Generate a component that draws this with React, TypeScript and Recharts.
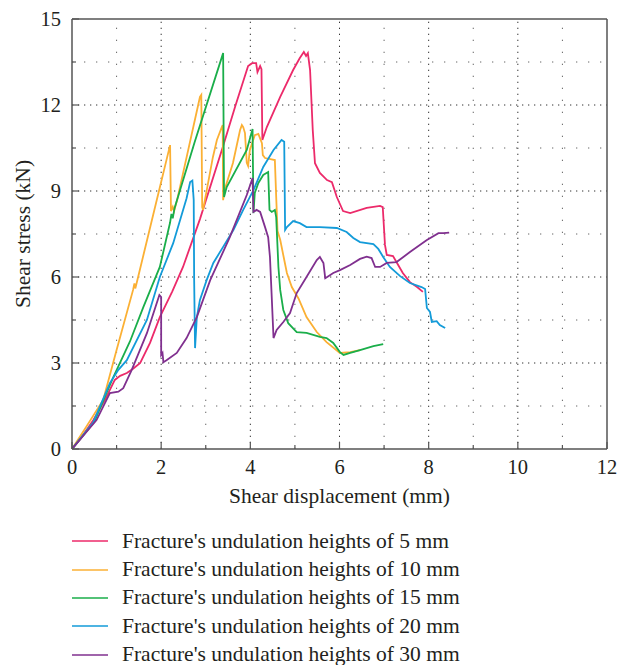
import { LineChart, Line, XAxis, YAxis, ReferenceLine, Legend } from 'recharts';

type Pt = [number, number];

// shear displacement (mm), shear stress (kN)
const height5: Pt[] = [
  [0, 0], [0.2, 0.38], [0.48, 1.01], [0.75, 1.75], [0.96, 2.41], [1.08, 2.55], [1.23, 2.65], [1.37, 2.8],
  [1.53, 3.0], [1.75, 3.7], [1.97, 4.6], [2.25, 5.5], [2.49, 6.35], [2.87, 8.02], [3.39, 10.57], [3.66, 11.95],
  [3.95, 13.36], [4.04, 13.46], [4.13, 13.46], [4.16, 13.15], [4.22, 13.36], [4.25, 13.25], [4.27, 10.78],
  [4.37, 11.23], [4.67, 12.28], [4.96, 13.22], [5.11, 13.64], [5.2, 13.85], [5.25, 13.71], [5.29, 13.81],
  [5.34, 13.22], [5.4, 11.13], [5.45, 9.97], [5.56, 9.63], [5.72, 9.38], [5.83, 9.31], [5.94, 8.79], [6.08, 8.3],
  [6.24, 8.23], [6.61, 8.41], [6.91, 8.48], [6.97, 8.44], [7.02, 7.12], [7.06, 6.77], [7.2, 6.73], [7.29, 6.49],
  [7.42, 6.14], [7.58, 5.82], [7.74, 5.65], [7.87, 5.48],
];

const height10: Pt[] = [
  [0, 0], [0.35, 0.85], [0.7, 1.71], [1.0, 3.45], [1.37, 5.55], [1.4, 5.78], [1.42, 5.6], [1.46, 5.85],
  [1.9, 8.68], [2.2, 10.6], [2.22, 8.3], [2.26, 8.45], [2.29, 8.3], [2.36, 8.7], [2.87, 12.28], [2.9, 12.35],
  [2.92, 8.44], [2.94, 8.34], [3.16, 10.18], [3.25, 10.78], [3.36, 11.23], [3.38, 11.3], [3.39, 8.68],
  [3.42, 9.03], [3.61, 9.98], [3.77, 11.13], [3.81, 11.3], [3.84, 11.23], [3.88, 11.02], [3.92, 9.98],
  [3.95, 9.87], [3.99, 10.43], [4.1, 10.95], [4.18, 10.99], [4.26, 10.67], [4.28, 10.25], [4.33, 10.15],
  [4.55, 10.08], [4.58, 8.8], [4.61, 7.6], [4.67, 7.3], [4.76, 6.6], [4.82, 6.14], [4.93, 5.65], [5.08, 5.25],
  [5.26, 4.6], [5.49, 4.08], [5.71, 3.73], [6.01, 3.35], [6.24, 3.38], [6.46, 3.45],
];

const height15: Pt[] = [
  [0, 0], [0.5, 0.95], [0.93, 2.52], [1.3, 3.75], [1.6, 4.95], [1.97, 6.35], [2.2, 7.9], [2.23, 8.2],
  [2.26, 8.05], [2.3, 8.4], [2.75, 10.7], [3.39, 13.81], [3.41, 8.79], [3.47, 9.14], [3.92, 10.43],
  [4.05, 11.16], [4.07, 8.23], [4.1, 8.93], [4.18, 9.28], [4.29, 9.56], [4.4, 9.66], [4.43, 8.34],
  [4.48, 8.27], [4.55, 8.34], [4.58, 8.09], [4.63, 6.35], [4.67, 5.55], [4.74, 4.85], [4.85, 4.39],
  [5.04, 4.08], [5.26, 4.05], [5.56, 3.91], [5.71, 3.87], [5.86, 3.7], [6.01, 3.38], [6.09, 3.28],
  [6.24, 3.35], [6.46, 3.45], [6.76, 3.59], [6.98, 3.66],
];

const height20: Pt[] = [
  [0, 0], [0.47, 0.91], [0.85, 2.3], [1.04, 2.76], [1.23, 3.1], [1.68, 4.5], [1.97, 6.0], [2.27, 7.18],
  [2.57, 8.75], [2.65, 9.31], [2.7, 9.36], [2.73, 8.69], [2.74, 5.89], [2.76, 3.52], [2.8, 4.6], [2.87, 5.2],
  [3.02, 5.89], [3.17, 6.49], [3.39, 7.05], [3.62, 7.64], [3.84, 8.34], [4.07, 9.03], [4.29, 9.84],
  [4.52, 10.43], [4.7, 10.78], [4.76, 10.72], [4.78, 7.64], [4.82, 7.74], [4.96, 7.95], [5.11, 7.88],
  [5.26, 7.74], [5.56, 7.74], [5.94, 7.71], [6.16, 7.57], [6.31, 7.36], [6.46, 7.22], [6.76, 7.15],
  [6.87, 6.98], [6.98, 6.7], [7.13, 6.35], [7.36, 6.03], [7.58, 5.79], [7.84, 5.65], [7.92, 5.58],
  [7.96, 4.92], [8.03, 4.78], [8.07, 4.43], [8.18, 4.46], [8.25, 4.32], [8.37, 4.22],
];

const height30: Pt[] = [
  [0, 0], [0.55, 1.01], [0.85, 1.95], [1.04, 2.0], [1.15, 2.12], [1.34, 2.76], [1.68, 4.04], [1.96, 5.37],
  [2.0, 5.3], [2.0, 3.28], [2.03, 3.35], [2.05, 3.03], [2.12, 3.1], [2.35, 3.35], [2.57, 3.87], [2.8, 4.6],
  [3.1, 5.89], [3.54, 7.39], [3.92, 8.86], [4.05, 9.45], [4.07, 8.27], [4.14, 8.34], [4.22, 8.27],
  [4.33, 7.74], [4.4, 7.39], [4.44, 6.7], [4.48, 5.3], [4.52, 3.87], [4.59, 4.15], [4.74, 4.43], [4.89, 4.74],
  [5.04, 5.44], [5.26, 6.0], [5.49, 6.59], [5.56, 6.7], [5.64, 6.49], [5.68, 5.96], [5.75, 6.03],
  [5.86, 6.14], [6.01, 6.24], [6.24, 6.42], [6.46, 6.63], [6.61, 6.71], [6.72, 6.66], [6.8, 6.35],
  [6.91, 6.35], [7.06, 6.49], [7.28, 6.52], [7.58, 6.87], [7.96, 7.29], [8.22, 7.53], [8.33, 7.53], [8.46, 7.55],
];

const SERIES = [
  { name: "Fracture's undulation heights of 5 mm", color: '#EC2A6A', points: height5 },
  { name: "Fracture's undulation heights of 10 mm", color: '#FBB034', points: height10 },
  { name: "Fracture's undulation heights of 15 mm", color: '#1AAE4A', points: height15 },
  { name: "Fracture's undulation heights of 20 mm", color: '#139BD9', points: height20 },
  { name: "Fracture's undulation heights of 30 mm", color: '#80308F', points: height30 },
];

const xTicks = [0, 1, 2, 3, 4, 5, 6, 7, 8, 9, 10, 11, 12];
const yTicks = [0, 1.5, 3, 4.5, 6, 7.5, 9, 10.5, 12, 13.5, 15];

const FONT = '"Liberation Serif", "Times New Roman", serif';
const TEXT = '#231F20';
const AXIS = '#555';

function XTick({ x, y, payload }: any) {
  const v = payload.value as number;
  const major = v % 2 === 0;
  return (
    <g>
      <line x1={x} y1={y} x2={x} y2={y - (major ? 7 : 4)} stroke={AXIS} strokeWidth={1.2} />
      {major && (
        <text x={x} y={y + 25} textAnchor="middle" fontSize={20.5} fontFamily={FONT} fill={TEXT}>
          {v}
        </text>
      )}
    </g>
  );
}

function YTick({ x, y, payload }: any) {
  const v = payload.value as number;
  const major = v % 3 === 0;
  return (
    <g>
      <line x1={x} y1={y} x2={x + (major ? 7 : 4)} y2={y} stroke={AXIS} strokeWidth={1.2} />
      {major && (
        <text x={x - 11} y={y + 7} textAnchor="end" fontSize={20.5} fontFamily={FONT} fill={TEXT}>
          {v}
        </text>
      )}
    </g>
  );
}

// legend rows follow the series order
function LegendList() {
  return (
    <div style={{ fontFamily: FONT, fontSize: 21.5, color: TEXT }}>
      {SERIES.map((s) => (
        <div key={s.name} style={{ display: 'flex', alignItems: 'center', height: 28.4, whiteSpace: 'nowrap' }}>
          <svg width={36} height={4} style={{ marginRight: 14, flexShrink: 0 }}>
            <line x1={0} y1={2} x2={36} y2={2} stroke={s.color} strokeWidth={1.6} />
          </svg>
          <span>{s.name}</span>
        </div>
      ))}
    </div>
  );
}

export default function App() {
  return (
    <div style={{ position: 'absolute', left: 0, top: 0 }}>
      <LineChart width={628} height={665} margin={{ top: 19, right: 21, bottom: 156, left: 0 }}>
        <XAxis
          type="number"
          dataKey="x"
          domain={[0, 12]}
          ticks={xTicks}
          interval={0}
          tickSize={0}
          tickMargin={0}
          tickLine={false}
          tick={<XTick />}
          height={60}
          axisLine={{ stroke: AXIS, strokeWidth: 1.5 }}
          allowDataOverflow
          label={{
            value: 'Shear displacement (mm)',
            position: 'insideBottom',
            offset: 6,
            style: { fontFamily: FONT, fontSize: 21.5, fill: TEXT },
          }}
        />
        <YAxis
          type="number"
          domain={[0, 15]}
          ticks={yTicks}
          interval={0}
          tickSize={0}
          tickMargin={0}
          tickLine={false}
          tick={<YTick />}
          width={72}
          axisLine={{ stroke: AXIS, strokeWidth: 1.5 }}
          allowDataOverflow
          label={{
            value: 'Shear stress (kN)',
            angle: -90,
            position: 'insideLeft',
            offset: 22,
            style: { fontFamily: FONT, fontSize: 21.5, fill: TEXT, textAnchor: 'middle' },
          }}
        />
        {/* dotted grid: dense dots on labelled values, sparse ones in between */}
        {xTicks.slice(1, -1).map((v) => (
          <ReferenceLine
            key={'gx' + v}
            x={v}
            stroke={v % 2 === 0 ? '#333' : '#666'}
            strokeWidth={1}
            strokeDasharray={v % 2 === 0 ? '1.3 4.7' : '1.3 10.7'}
          />
        ))}
        {yTicks.slice(1, -1).map((v) => (
          <ReferenceLine
            key={'gy' + v}
            y={v}
            stroke={v % 3 === 0 ? '#333' : '#666'}
            strokeWidth={1}
            strokeDasharray={v % 3 === 0 ? '1.3 4.7' : '1.3 10.7'}
          />
        ))}
        <ReferenceLine x={12} stroke={AXIS} strokeWidth={1.5} />
        <ReferenceLine y={15} stroke={AXIS} strokeWidth={1.5} />
        {SERIES.map((s) => (
          <Line
            key={s.name}
            name={s.name}
            type="linear"
            data={s.points.map(([x, y]) => ({ x, y }))}
            dataKey="y"
            stroke={s.color}
            strokeWidth={1.8}
            dot={false}
            activeDot={false}
            isAnimationActive={false}
          />
        ))}
        <Legend
          layout="vertical"
          align="center"
          verticalAlign="middle"
          content={<LegendList />}
          wrapperStyle={{ left: 72, top: 527, width: 440, bottom: 'auto', right: 'auto' }}
        />
      </LineChart>
    </div>
  );
}
